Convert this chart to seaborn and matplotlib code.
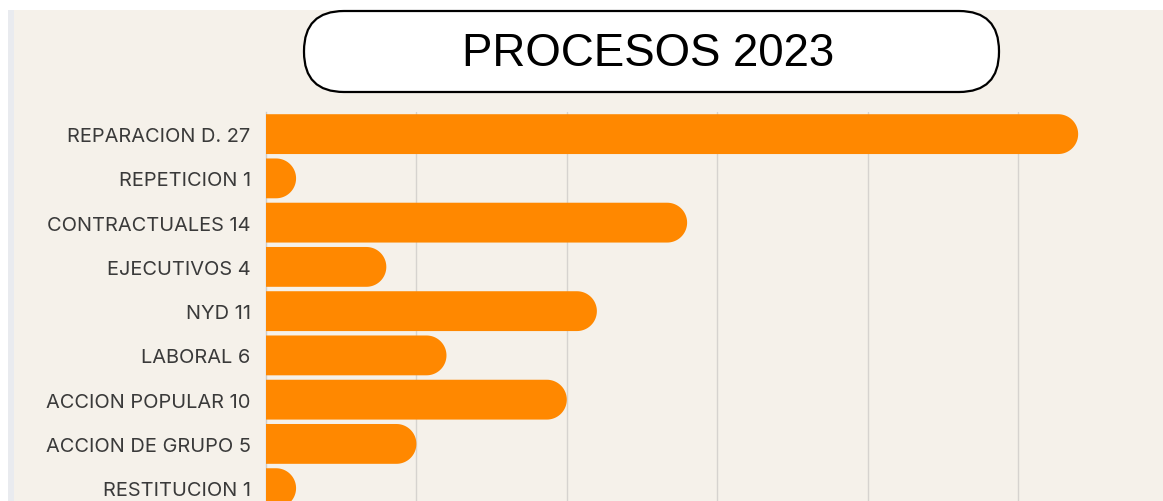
import matplotlib
matplotlib.use("Agg")
import matplotlib.pyplot as plt
import numpy as np
import pandas as pd
import seaborn as sns
from matplotlib.patches import FancyBboxPatch, Polygon, Rectangle

# datos
categorias = ["REPARACION D. 27", "REPETICION 1", "CONTRACTUALES 14", "EJECUTIVOS 4",
              "NYD 11", "LABORAL 6", "ACCION POPULAR 10", "ACCION DE GRUPO 5", "RESTITUCION 1"]
valores = [27, 1, 14, 4, 11, 6, 10, 5, 1]
titulo = "PROCESOS 2023"

df = pd.DataFrame({"categoria": categorias, "valor": valores})

beige = "#f5f1ea"
naranja = "#ff8800"

sns.set_theme(style="white")
plt.rcParams["font.family"] = ["Inter", "DejaVu Sans"]

W, H = 1163, 502
fig = plt.figure(figsize=(W / 100, H / 100), dpi=100, facecolor="white")

# capa de fondo en pixeles
bg = fig.add_axes([0, 0, 1, 1], zorder=0)
bg.set_xlim(0, W)
bg.set_ylim(H, 0)
bg.axis("off")
bg.add_patch(Rectangle((14, 11), W, H, facecolor=beige, edgecolor="none"))
bg.add_patch(Rectangle((8, 11), 6, H, facecolor="#e9ebef", edgecolor="none"))

# caja del titulo
bg.add_patch(FancyBboxPatch((304, 12), 695, 81,
                            boxstyle="round,pad=0,rounding_size=40",
                            facecolor="white", edgecolor="black", linewidth=1.6))
bg.text(648, 54, titulo, ha="center", va="center", fontsize=32.9,
        color="black", family=["Liberation Sans", "DejaVu Sans"])

ax = fig.add_axes([266 / W, 0, 1 - 266 / W, (H - 113) / H], zorder=1)
ax.set_facecolor(beige)

sns.barplot(data=df, x="valor", y="categoria", color=naranja, width=0.9, ax=ax,
            saturation=1, zorder=3)

ax.set_xlim(0, 897 / 30.08)
ax.set_ylim(8.29, -0.5)

# reemplazar las barras por barras con extremo redondeado (semicirculo)
fig.canvas.draw()
px_x = ax.transData.transform((1, 0))[0] - ax.transData.transform((0, 0))[0]
px_y = abs(ax.transData.transform((0, 1))[1] - ax.transData.transform((0, 0))[1])
t = np.linspace(-np.pi / 2, np.pi / 2, 40)
for p in list(ax.patches):
    x0, y0, w, h = p.get_x(), p.get_y(), p.get_width(), p.get_height()
    ry = h / 2
    rx = (ry * px_y) / px_x
    yc = y0 + ry
    xc = x0 + w - rx
    arco = np.column_stack([xc + rx * np.cos(t), yc + ry * np.sin(t)])
    pts = np.vstack([[x0, y0 + h], arco[::-1], [x0, y0]])
    p.set_visible(False)
    ax.add_patch(Polygon(pts, closed=True, facecolor=naranja, edgecolor="none", zorder=3))

ax.set_xticks([5, 10, 15, 20, 25])
ax.xaxis.grid(True, color="#d6d3cf", linewidth=1)
ax.set_axisbelow(True)
ax.tick_params(axis="x", length=0, labelbottom=False)
ax.tick_params(axis="y", length=0, pad=11, labelsize=14.4, labelcolor="#3a3a3a")
ax.set_xlabel("")
ax.set_ylabel("")
for s in ["top", "right", "bottom"]:
    ax.spines[s].set_visible(False)
ax.spines["left"].set_color("#cfccc8")
ax.spines["left"].set_linewidth(1)

fig.savefig("out.png", dpi=100, facecolor="white")
